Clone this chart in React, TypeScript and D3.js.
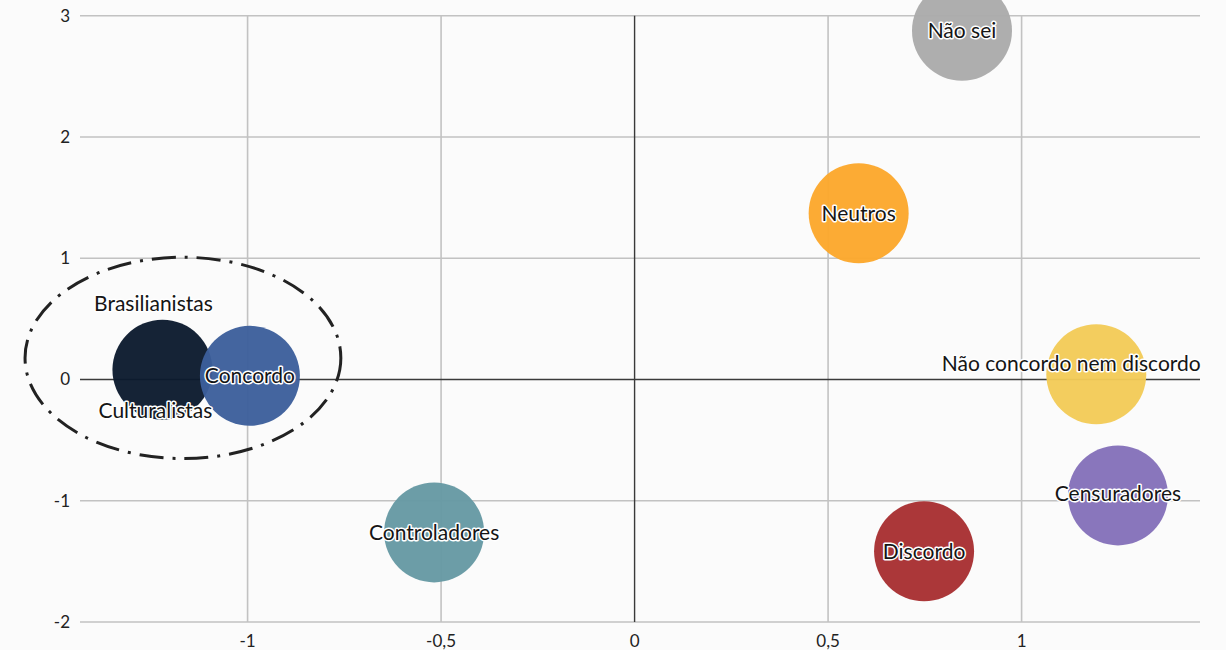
import React from "react";
import * as d3 from "d3";

const labels = ["Não sei", "Neutros", "Não concordo nem discordo", "Censuradores", "Discordo", "Controladores", "Brasilianistas", "Concordo"];
const xValues = [0.846, 0.579, 1.193, 1.249, 0.748, -0.518, -1.22, -0.994];
const yValues = [2.876, 1.371, 0.043, -0.956, -1.417, -1.261, 0.08, 0.03];
const colors = ["#ababab", "#fca82c", "#f2cb57", "#8470b9", "#a82f31", "#6699a3", "#0b1a2e", "#3c5f9b"];
const xTicks = [-1, -0.5, 0, 0.5, 1];
const xTickLabels = ["-1", "-0,5", "0", "0,5", "1"];
const yTicks = [-2, -1, 0, 1, 2, 3];
const yTickLabels = ["-2", "-1", "0", "1", "2", "3"];
const xDomain = [-1.433, 1.461];
const yDomain = [-2, 3];
// group ellipse in data units: centre x, centre y, radius x, radius y
const groupEllipse = [-1.167, 0.178, 0.408, 0.83];
const secondLabel = "Culturalistas";

const W = 1226, H = 650;
const L = 80, R = 1200, T = 15.7, B = 622;

export default function App() {
  const x = d3.scaleLinear().domain(xDomain).range([L, R]);
  const y = d3.scaleLinear().domain(yDomain).range([B, T]);
  const r = 50;
  const font = "Lato, 'Open Sans', sans-serif";
  const labelOffsets: Record<string, [number, number]> = {
    "Não concordo nem discordo": [-25, -11],
    "Brasilianistas": [-9, -66],
    "Censuradores": [0, -2],
  };
  const halo = { stroke: "#fff", strokeWidth: 3, paintOrder: "stroke" as const, strokeLinejoin: "round" as const };
  return (
    <svg width={W} height={H} style={{ position: "absolute", left: 0, top: 0, background: "#fbfbfb" }}>
      {yTicks.filter(t => t !== 0).map(t => (
        <line key={"gy" + t} x1={L} x2={R} y1={y(t)} y2={y(t)} stroke="#c2c2c2" strokeWidth={1.6} />
      ))}
      {xTicks.filter(t => t !== 0).map(t => (
        <line key={"gx" + t} x1={x(t)} x2={x(t)} y1={T} y2={B} stroke="#c2c2c2" strokeWidth={1.6} />
      ))}
      <line x1={L} x2={R} y1={y(0)} y2={y(0)} stroke="#3a3a3a" strokeWidth={1.4} />
      <line x1={x(0)} x2={x(0)} y1={T} y2={B} stroke="#3a3a3a" strokeWidth={1.4} />
      {yTicks.map((t, i) => (
        <text key={"ty" + t} x={70} y={y(t)} dy="0.35em" textAnchor="end" fontFamily={font} fontSize={17} fill="#222">{yTickLabels[i]}</text>
      ))}
      {xTicks.map((t, i) => (
        <text key={"tx" + t} x={x(t)} y={641} dy="0.35em" textAnchor="middle" fontFamily={font} fontSize={17} fill="#222">{xTickLabels[i]}</text>
      ))}
      {labels.map((lab, i) => (
        <circle key={"c" + i} cx={x(xValues[i])} cy={y(yValues[i])} r={r} fill={colors[i]} fillOpacity={0.96} />
      ))}
      <ellipse
        cx={x(groupEllipse[0])}
        cy={y(groupEllipse[1])}
        rx={x(groupEllipse[0] + groupEllipse[2]) - x(groupEllipse[0])}
        ry={y(groupEllipse[1] - groupEllipse[3]) - y(groupEllipse[1])}
        fill="none"
        stroke="#222"
        strokeWidth={3}
        strokeDasharray="24 9 3 9"
      />
      {labels.map((lab, i) => {
        const off = labelOffsets[lab] || [0, 0];
        return (
          <text key={"l" + i} x={x(xValues[i]) + off[0]} y={y(yValues[i]) + off[1]} dy="0.35em" textAnchor="middle" fontFamily={font} fontSize={21} fill="#151515" style={halo}>{lab}</text>
        );
      })}
      <text x={x(xValues[6]) - 7} y={y(yValues[6]) + 41} dy="0.35em" textAnchor="middle" fontFamily={font} fontSize={21} fill="#151515" style={halo}>{secondLabel}</text>
    </svg>
  );
}
